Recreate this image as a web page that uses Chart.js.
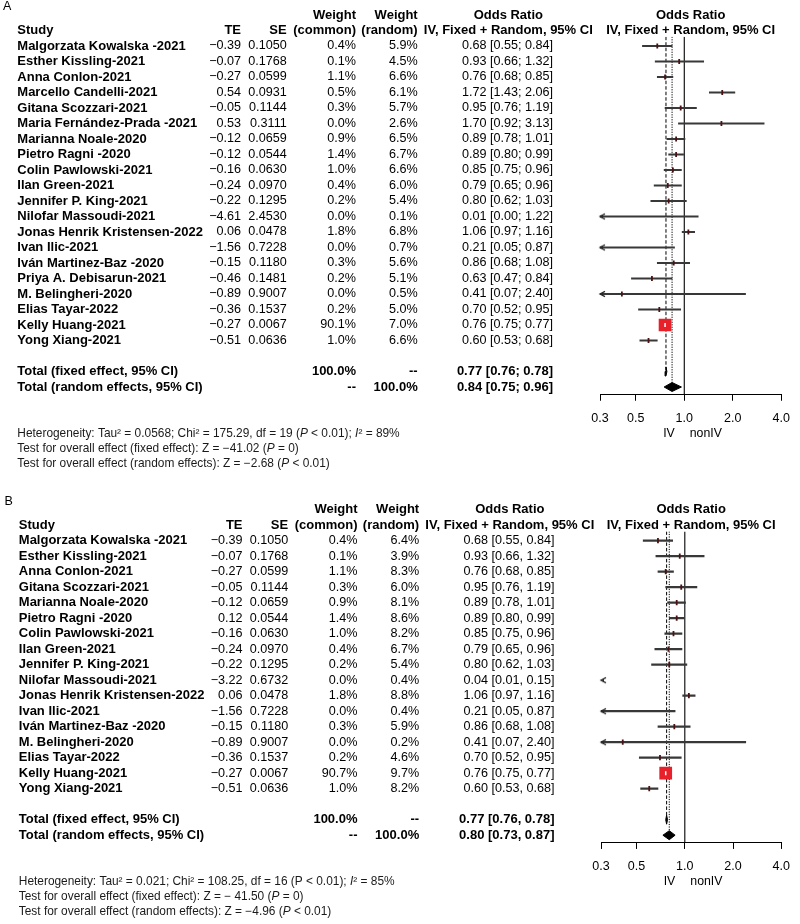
<!DOCTYPE html>
<html>
<head>
<meta charset="utf-8">
<script src="https://cdn.jsdelivr.net/npm/chart.js@4.4.0/dist/chart.umd.min.js"></script>
<style>
html, body { margin: 0; padding: 0; background: #fff; }
#wrap { width: 800px; height: 924px; position: relative; }
canvas { display: block; }
</style>
</head>
<body>
<div id="wrap">
<canvas id="chartA" width="800" height="470"></canvas>
<canvas id="chartB" width="800" height="454"></canvas>
</div>
<script>
const FONT = '"Liberation Sans", Arial, Helvetica, sans-serif';

// ---------- Panel A data ----------
const studiesA = ["Malgorzata Kowalska -2021", "Esther Kissling-2021", "Anna Conlon-2021", "Marcello Candelli-2021",
  "Gitana Scozzari-2021", "Maria Fernández-Prada -2021", "Marianna Noale-2020", "Pietro Ragni -2020",
  "Colin Pawlowski-2021", "Ilan Green-2021", "Jennifer P. King-2021", "Nilofar Massoudi-2021",
  "Jonas Henrik Kristensen-2022", "Ivan Ilic-2021", "Iván Martinez-Baz -2020", "Priya A. Debisarun-2021",
  "M. Belingheri-2020", "Elias Tayar-2022", "Kelly Huang-2021", "Yong Xiang-2021"];
const teA = [-0.39, -0.07, -0.27, 0.54, -0.05, 0.53, -0.12, -0.12, -0.16, -0.24, -0.22, -4.61, 0.06, -1.56, -0.15, -0.46, -0.89, -0.36, -0.27, -0.51];
const seA = [0.1050, 0.1768, 0.0599, 0.0931, 0.1144, 0.3111, 0.0659, 0.0544, 0.0630, 0.0970, 0.1295, 2.4530, 0.0478, 0.7228, 0.1180, 0.1481, 0.9007, 0.1537, 0.0067, 0.0636];
const wCommonA = [0.4, 0.1, 1.1, 0.5, 0.3, 0.0, 0.9, 1.4, 1.0, 0.4, 0.2, 0.0, 1.8, 0.0, 0.3, 0.2, 0.0, 0.2, 90.1, 1.0];
const wRandomA = [5.9, 4.5, 6.6, 6.1, 5.7, 2.6, 6.5, 6.7, 6.6, 6.0, 5.4, 0.1, 6.8, 0.7, 5.6, 5.1, 0.5, 5.0, 7.0, 6.6];
const orA = [0.68, 0.93, 0.76, 1.72, 0.95, 1.70, 0.89, 0.89, 0.85, 0.79, 0.80, 0.01, 1.06, 0.21, 0.86, 0.63, 0.41, 0.70, 0.76, 0.60];
const loA = [0.55, 0.66, 0.68, 1.43, 0.76, 0.92, 0.78, 0.80, 0.75, 0.65, 0.62, 0.00, 0.97, 0.05, 0.68, 0.47, 0.07, 0.52, 0.75, 0.53];
const hiA = [0.84, 1.32, 0.85, 2.06, 1.19, 3.13, 1.01, 0.99, 0.96, 0.96, 1.03, 1.22, 1.16, 0.87, 1.08, 0.84, 2.40, 0.95, 0.77, 0.68];
const fixedA = [0.77, 0.76, 0.78];
const randomA = [0.84, 0.75, 0.96];
const footerA = [
  [["Heterogeneity: Tau² = 0.0568; Chi² = 175.29, df = 19 (", ""], ["P", "i"], [" < 0.01); ", ""], ["I", "i"], ["² = 89%", ""]],
  [["Test for overall effect (fixed effect): Z = \u221241.02 (", ""], ["P", "i"], [" = 0)", ""]],
  [["Test for overall effect (random effects): Z = \u22122.68 (", ""], ["P", "i"], [" < 0.01)", ""]]
];

// ---------- Panel B data ----------
const studiesB = ["Malgorzata Kowalska -2021", "Esther Kissling-2021", "Anna Conlon-2021", "Gitana Scozzari-2021",
  "Marianna Noale-2020", "Pietro Ragni -2020", "Colin Pawlowski-2021", "Ilan Green-2021", "Jennifer P. King-2021",
  "Nilofar Massoudi-2021", "Jonas Henrik Kristensen-2022", "Ivan Ilic-2021", "Iván Martinez-Baz -2020",
  "M. Belingheri-2020", "Elias Tayar-2022", "Kelly Huang-2021", "Yong Xiang-2021"];
const teB = [-0.39, -0.07, -0.27, -0.05, -0.12, 0.12, -0.16, -0.24, -0.22, -3.22, 0.06, -1.56, -0.15, -0.89, -0.36, -0.27, -0.51];
const seB = [0.1050, 0.1768, 0.0599, 0.1144, 0.0659, 0.0544, 0.0630, 0.0970, 0.1295, 0.6732, 0.0478, 0.7228, 0.1180, 0.9007, 0.1537, 0.0067, 0.0636];
const wCommonB = [0.4, 0.1, 1.1, 0.3, 0.9, 1.4, 1.0, 0.4, 0.2, 0.0, 1.8, 0.0, 0.3, 0.0, 0.2, 90.7, 1.0];
const wRandomB = [6.4, 3.9, 8.3, 6.0, 8.1, 8.6, 8.2, 6.7, 5.4, 0.4, 8.8, 0.4, 5.9, 0.2, 4.6, 9.7, 8.2];
const orB = [0.68, 0.93, 0.76, 0.95, 0.89, 0.89, 0.85, 0.79, 0.80, 0.04, 1.06, 0.21, 0.86, 0.41, 0.70, 0.76, 0.60];
const loB = [0.55, 0.66, 0.68, 0.76, 0.78, 0.80, 0.75, 0.65, 0.62, 0.01, 0.97, 0.05, 0.68, 0.07, 0.52, 0.75, 0.53];
const hiB = [0.84, 1.32, 0.85, 1.19, 1.01, 0.99, 0.96, 0.96, 1.03, 0.15, 1.16, 0.87, 1.08, 2.40, 0.95, 0.77, 0.68];
const fixedB = [0.77, 0.76, 0.78];
const randomB = [0.80, 0.73, 0.87];
const footerB = [
  [["Heterogeneity: Tau² = 0.021; Chi² = 108.25, df = 16 (P < 0.01); ", ""], ["I", "i"], ["² = 85%", ""]],
  [["Test for overall effect (fixed effect): Z = \u2212 41.50 (", ""], ["P", "i"], [" = 0)", ""]],
  [["Test for overall effect (random effects): Z = \u22124.96 (", ""], ["P", "i"], [" < 0.01)", ""]]
];

// shared axis ticks
const xTicks = [0.3, 0.5, 1.0, 2.0, 4.0];

// ---------- helpers ----------
const fmtTE = v => (v < 0 ? "\u2212" : "") + Math.abs(v).toFixed(2);
const fmtPct = v => v.toFixed(1) + "%";
const fmtCI = (o, l, h, sep) => o.toFixed(2) + " [" + l.toFixed(2) + sep + " " + h.toFixed(2) + "]";

const arrowImg = document.createElement("canvas");
arrowImg.width = 14; arrowImg.height = 10;
(function () {
  const a = arrowImg.getContext("2d");
  a.strokeStyle = "#2a2a2a"; a.fillStyle = "#2a2a2a"; a.lineWidth = 1.3;
  a.beginPath(); a.moveTo(12, 2.4); a.lineTo(7, 5); a.lineTo(12, 7.6); a.stroke();
  a.beginPath(); a.moveTo(7, 5); a.lineTo(10, 3.6); a.lineTo(10, 6.4); a.closePath(); a.fill();
})();

// column anchors (panel A reference; panel B shifted by dx)
const COL = { letter: 3, study: 17.3, te: 241, se: 286.7, wc: 356, wr: 417.7, ciR: 553, ciC: 508.3 };

function drawSegs(ctx, segs, x, y, size) {
  let cx = x;
  ctx.textAlign = "left";
  segs.forEach(([t, st]) => {
    ctx.font = (st === "i" ? "italic " : "") + size + "px " + FONT;
    ctx.fillText(t, cx, y);
    cx += ctx.measureText(t).width;
  });
}

function tablePlugin(P, L) {
  return {
    id: "forestTable",
    afterDraw(chart) {
      const ctx = chart.ctx, ys = chart.scales.y, xs = chart.scales.x, area = chart.chartArea;
      const ry = r => ys.getPixelForValue(r);
      const n = P.studies.length;
      const d = L.dx;
      const bold = "bold 13px " + FONT, reg = "12.6px " + FONT;
      const t = (s, x, y, al, f) => { ctx.font = f; ctx.textAlign = al; ctx.fillText(s, x, y); };
      ctx.save();
      ctx.fillStyle = "#000";
      ctx.textBaseline = "middle";
      t(P.letter, COL.letter + d, ry(-2) - 8, "left", "12.5px " + FONT);
      // headers
      t("Weight", COL.wc + d, ry(-2), "right", bold);
      t("Weight", COL.wr + d, ry(-2), "right", bold);
      t("Odds Ratio", COL.ciC + d, ry(-2), "center", bold);
      const pc = (area.left + area.right) / 2;
      t("Odds Ratio", pc, ry(-2), "center", bold);
      t("Study", COL.study + d, ry(-1), "left", bold);
      t("TE", COL.te + d, ry(-1), "right", bold);
      t("SE", COL.se + d, ry(-1), "right", bold);
      t("(common)", COL.wc + d, ry(-1), "right", bold);
      t("(random)", COL.wr + d, ry(-1), "right", bold);
      t("IV, Fixed + Random, 95% CI", COL.ciC + d, ry(-1), "center", bold);
      t("IV, Fixed + Random, 95% CI", pc, ry(-1), "center", bold);
      // study rows
      for (let i = 0; i < n; i++) {
        const y = ry(i);
        t(P.studies[i], COL.study + d, y, "left", bold);
        t(fmtTE(P.te[i]), COL.te + d, y, "right", reg);
        t(P.se[i].toFixed(4), COL.se + d, y, "right", reg);
        t(fmtPct(P.wc[i]), COL.wc + d, y, "right", reg);
        t(fmtPct(P.wr[i]), COL.wr + d, y, "right", reg);
        t(fmtCI(P.or[i], P.lo[i], P.hi[i], P.sep), COL.ciR + d, y, "right", reg);
      }
      // totals
      const yf = ry(n + 1), yr = ry(n + 2);
      t("Total (fixed effect, 95% CI)", COL.study + d, yf, "left", bold);
      t("100.0%", COL.wc + d, yf, "right", bold);
      t("--", COL.wr + d, yf, "right", bold);
      t(fmtCI(P.fixed[0], P.fixed[1], P.fixed[2], P.sep), COL.ciR + d, yf, "right", bold);
      t("Total (random effects, 95% CI)", COL.study + d, yr, "left", bold);
      t("--", COL.wc + d, yr, "right", bold);
      t("100.0%", COL.wr + d, yr, "right", bold);
      t(fmtCI(P.random[0], P.random[1], P.random[2], P.sep), COL.ciR + d, yr, "right", bold);
      // IV / nonIV labels around the null line
      const x1 = xs.getPixelForValue(1);
      t("IV", x1 - 9.5, area.bottom + 39, "right", "12.3px " + FONT);
      t("nonIV", x1 + 5.5, area.bottom + 39, "left", "12.3px " + FONT);
      // footer
      ctx.fillStyle = "#1a1a1a";
      P.footer.forEach((segs, k) => drawSegs(ctx, segs, COL.study + d, area.bottom + 38.5 + 15.3 * k, 11.9));
      ctx.restore();
    }
  };
}

function makeForest(id, P, L) {
  const n = P.studies.length;
  const rowFixed = n + 1, rowRandom = n + 2;
  const yMin = -0.6, yMax = rowRandom + 0.5;
  const xMin = xTicks[0], xMax = xTicks[xTicks.length - 1];
  const AXIS_H = 40;
  const top = L.row0 + yMin * L.rowH;
  const bottom = L.row0 + yMax * L.rowH;
  const dH = 0.29;
  const big = P.wc.map(w => w >= 50);
  const diamond = (tt, r) => [{ x: tt[1], y: r }, { x: tt[0], y: r - dH }, { x: tt[2], y: r }, { x: tt[0], y: r + dH }, { x: tt[1], y: r }];
  const pts = P.or.map((v, i) => ({ x: v, y: i }));
  // a lower limit of 0.00 cannot sit on a log axis; anything below the axis minimum is clipped anyway
  const barStart = v => Math.max(v, xMin / 10);

  const datasets = [
    { type: "scatter", label: "null", data: [{ x: 1, y: yMin }, { x: 1, y: yMax }], showLine: true,
      borderColor: "#000", borderWidth: 1.1, pointRadius: 0, order: 20 },
    { type: "scatter", label: "fixed", data: [{ x: P.fixed[0], y: yMin }, { x: P.fixed[0], y: rowFixed }], showLine: true,
      borderColor: "#000", borderWidth: 1, borderDash: [3.5, 2], pointRadius: 0, order: 19 },
    { type: "scatter", label: "random", data: [{ x: P.random[0], y: yMin }, { x: P.random[0], y: rowRandom - dH }], showLine: true,
      borderColor: "#000", borderWidth: 1, borderDash: [1.2, 1.3], pointRadius: 0, order: 18 },
    { type: "bar", label: "CI", indexAxis: "y", xAxisID: "x", yAxisID: "y",
      data: P.studies.map((s, i) => ({ y: i, x: [barStart(P.lo[i]), P.hi[i]] })),
      backgroundColor: "#383838", barThickness: 1.5, borderWidth: 0, clip: 0, order: 10 },
    { type: "scatter", label: "arrows", data: P.lo.map((v, i) => (v < xMin ? { x: xMin, y: i } : null)).filter(Boolean),
      pointStyle: arrowImg, pointRadius: 5, clip: false, order: 9 },
    { type: "scatter", label: "est", data: pts.filter((p, i) => !big[i]),
      pointStyle: "line", pointRotation: 90, pointRadius: 2.6, pointBorderWidth: 1.8, pointBorderColor: "#4a1212", clip: 2, order: 8 },
    { type: "scatter", label: "big", data: pts.filter((p, i) => big[i]),
      pointStyle: "rect", pointRadius: 9, pointBackgroundColor: "#e8202a", pointBorderWidth: 0, order: 7 },
    { type: "scatter", label: "bigmark", data: pts.filter((p, i) => big[i]),
      pointStyle: "line", pointRotation: 90, pointRadius: 2, pointBorderWidth: 1.5, pointBorderColor: "#fff", order: 6 },
    { type: "scatter", label: "fixed diamond", data: diamond(P.fixed, rowFixed), showLine: true, fill: "shape",
      backgroundColor: "#000", borderColor: "#000", borderWidth: 1, pointRadius: 0, order: 5 },
    { type: "scatter", label: "random diamond", data: diamond(P.random, rowRandom), showLine: true, fill: "shape",
      backgroundColor: "#000", borderColor: "#000", borderWidth: 1, pointRadius: 0, order: 4 }
  ];

  return new Chart(document.getElementById(id), {
    type: "scatter",
    data: { datasets },
    options: {
      responsive: false, animation: false, devicePixelRatio: 1, events: [],
      layout: { padding: { left: L.plotL, right: 800 - L.plotR, top: top, bottom: L.H - bottom - AXIS_H } },
      plugins: { legend: { display: false }, tooltip: { enabled: false } },
      scales: {
        x: {
          type: "logarithmic", min: xMin, max: xMax, offset: false, beginAtZero: false,
          afterBuildTicks: s => { s.ticks = xTicks.map(v => ({ value: v })); },
          afterFit: s => { s.height = AXIS_H; },
          border: { display: true, color: "#000", width: 1 },
          grid: { display: true, drawOnChartArea: false, drawTicks: true, tickLength: 6, color: "#000", tickColor: "#000", offset: false },
          ticks: { autoSkip: false, maxRotation: 0, padding: 10, color: "#000", font: { family: FONT, size: 12.5 },
            callback: v => Number(v).toFixed(1) }
        },
        y: { type: "linear", reverse: true, min: yMin, max: yMax, display: false, offset: false, grid: { offset: false } }
      }
    },
    plugins: [tablePlugin(P, L)]
  });
}

makeForest("chartA",
  { letter: "A", studies: studiesA, te: teA, se: seA, wc: wCommonA, wr: wRandomA, or: orA, lo: loA, hi: hiA,
    fixed: fixedA, random: randomA, sep: ";", footer: footerA },
  { dx: 0, row0: 46, rowH: 15.5, plotL: 600, plotR: 783, H: 470 });

makeForest("chartB",
  { letter: "B", studies: studiesB, te: teB, se: seB, wc: wCommonB, wr: wRandomB, or: orB, lo: loB, hi: hiB,
    fixed: fixedB, random: randomB, sep: ",", footer: footerB },
  { dx: 1.5, row0: 70.7, rowH: 15.5, plotL: 601, plotR: 785, H: 454 });
</script>
</body>
</html>
